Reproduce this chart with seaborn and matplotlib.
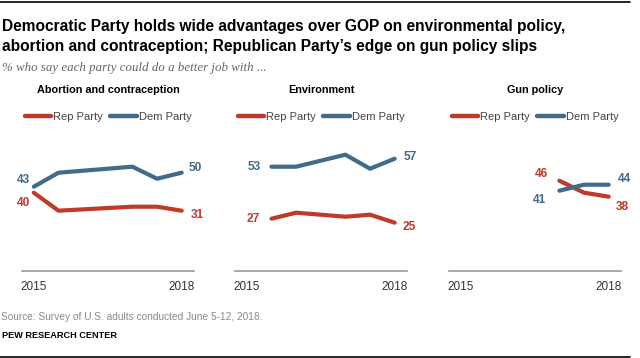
import numpy as np
import matplotlib
matplotlib.use("Agg")
import matplotlib.pyplot as plt
from matplotlib.lines import Line2D
import pandas as pd
import seaborn as sns

# values (% saying each party could do a better job)
panels = ["Abortion and contraception", "Environment", "Gun policy"]

abortion_years = [2015.0, 2015.5, 2017.0, 2017.5, 2018.0]
abortion_rep = [40, 31, 33, 33, 31]
abortion_dem = [43, 50, 53, 47, 50]

env_years = [2015.5, 2016.0, 2017.0, 2017.5, 2018.0]
env_rep = [27, 30, 28, 29, 25]
env_dem = [53, 53, 59, 52, 57]

gun_years = [2017.0, 2017.5, 2018.0]
gun_rep = [46, 40, 38]
gun_dem = [41, 44, 44]

tick_years = [2015, 2018]
parties = ["Rep Party", "Dem Party"]
colors = {"Rep Party": "#bf3a2a", "Dem Party": "#436a87"}

# offsets (pixels, y up) for the start/end value labels of each panel
label_offsets = [
    {"Rep Party": [(-10, -10), (16, -4)], "Dem Party": [(-10, 7), (14, 5)]},
    {"Rep Party": [(-18, 0), (15, -4)], "Dem Party": [(-17, 0), (16, 2)]},
    {"Rep Party": [(-18, 7), (14, -10)], "Dem Party": [(-20, -9), (16, 6)]},
]

series = [
    (abortion_years, abortion_rep, abortion_dem),
    (env_years, env_rep, env_dem),
    (gun_years, gun_rep, gun_dem),
]

sns.set_style("white")
plt.rcParams["font.family"] = ["Liberation Sans", "DejaVu Sans"]

W, H = 640, 358
fig = plt.figure(figsize=(6.4, 3.58), dpi=100)

lefts = [22, 235, 449]
ax_w = 172
ax_bottom = 271
ax_h = 172

for i, (yrs, rep, dem) in enumerate(series):
    ax = fig.add_axes([lefts[i] / W, 1 - ax_bottom / H, ax_w / W, ax_h / H])
    df = pd.DataFrame({
        "year": yrs + yrs,
        "value": rep + dem,
        "party": ["Rep Party"] * len(yrs) + ["Dem Party"] * len(yrs),
    })
    sns.lineplot(data=df, x="year", y="value", hue="party", hue_order=parties,
                 palette=colors, linewidth=3, ax=ax, legend=False,
                 solid_capstyle="round", solid_joinstyle="round")

    ax.set_xlim(2014.76, 2018.25)
    ax.set_ylim(0.85, 86.85)
    ax.set_xticks(tick_years)
    ax.set_xticklabels([str(t) for t in tick_years])
    ax.set_yticks([])
    ax.set_xlabel("")
    ax.set_ylabel("")
    ax.tick_params(axis="x", length=0, pad=7, labelsize=8.5, labelcolor="#333333")
    for s in ["top", "left", "right"]:
        ax.spines[s].set_visible(False)
    ax.spines["bottom"].set_color("#9a9a9a")
    ax.spines["bottom"].set_linewidth(1.2)

    ax.text(0.5, 1.053, panels[i], transform=ax.transAxes, ha="center", va="center",
            fontsize=7.8, fontweight="bold", color="black")

    handles = [Line2D([], [], color=colors[p], lw=3.2, solid_capstyle="round") for p in parties]
    ax.legend(handles, parties, loc="center", bbox_to_anchor=(0.5, 0.895), ncol=2,
              frameon=False, fontsize=8, handlelength=2.4, handletextpad=0.2,
              columnspacing=0.6, labelcolor="#444444", borderpad=0, borderaxespad=0)

    for party, vals in zip(parties, [rep, dem]):
        offs = label_offsets[i][party]
        for idx, (dx, dy) in zip([0, -1], offs):
            ax.annotate(str(vals[idx]), (yrs[idx], vals[idx]),
                        xytext=(dx * 0.72, dy * 0.72), textcoords="offset points",
                        ha="center", va="center", fontsize=8.6, fontweight="bold",
                        color=colors[party])

# titles and notes
fig.text(2 / W, 1 - 27 / H, "Democratic Party holds wide advantages over GOP on environmental policy,",
         fontsize=11.2, fontweight="bold", ha="left", va="center", color="black")
fig.text(2 / W, 1 - 47 / H, "abortion and contraception; Republican Party\u2019s edge on gun policy slips",
         fontsize=11.2, fontweight="bold", ha="left", va="center", color="black")
fig.text(2 / W, 1 - 68 / H, "% who say each party could do a better job with ...",
         fontsize=9.3, fontstyle="italic", family=["Liberation Serif", "DejaVu Serif"],
         ha="left", va="center", color="#666666")
fig.text(1 / W, 1 - 317 / H, "Source: Survey of U.S. adults conducted June 5-12, 2018.",
         fontsize=7.3, ha="left", va="center", color="#8a8a8a")
fig.text(2 / W, 1 - 336 / H, "PEW RESEARCH CENTER",
         fontsize=6.6, fontweight="bold", ha="left", va="center", color="black")

fig.add_artist(Line2D([0, 630 / W], [1 - 1.5 / H, 1 - 1.5 / H], color="black", lw=1.2))
fig.add_artist(Line2D([0, 630 / W], [1 - 356.5 / H, 1 - 356.5 / H], color="black", lw=1.2))

fig.savefig("out.png", dpi=100)
